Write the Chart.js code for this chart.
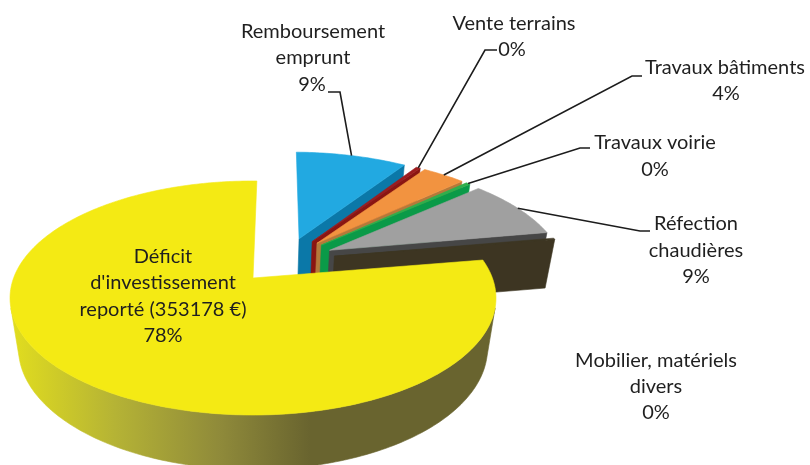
<!DOCTYPE html>
<html>
<head>
<meta charset="utf-8">
<style>html,body{margin:0;padding:0;background:#fff}canvas{display:block}</style>
<script src="https://cdn.jsdelivr.net/npm/chart.js@4"></script>
</head>
<body>
<canvas id="c" width="810" height="465"></canvas>
<script>
const categories = ["Déficit d'investissement reporté (353178 €)", "Remboursement emprunt", "Vente terrains", "Travaux bâtiments", "Travaux voirie", "Réfection chaudières", "Mobilier, matériels divers"];
const shares = [77.9, 9.1, 0.35, 3.5, 0.35, 8.6, 0.2];
const percentLabels = ["78%", "9%", "0%", "4%", "0%", "9%", "0%"];
const topColors = ["#f4ea14", "#22a9e1", "#9c1c1e", "#f29340", "#30ae4c", "#a0a0a0", "#3d3522"];
const wallColors = ["#6a6530", "#0b78a8", "#8a1512", "#b5793a", "#0a9a48", "#464646", "#3d3522"];

// label text lines, centre x and centre y of each line (layout only)
const labelLines = [
  [["Déficit",163,257],["d'investissement",163,283],["reporté (353178 €)",163,310],[percentLabels[0],163,336]],
  [["Remboursement",313,32],["emprunt",313,58],[percentLabels[1],312,85]],
  [["Vente terrains",514,24],[percentLabels[2],512,50]],
  [["Travaux bâtiments",725,68],[percentLabels[3],726,94]],
  [["Travaux voirie",655,143],[percentLabels[4],655,170]],
  [["Réfection",696,224],["chaudières",696,251],[percentLabels[5],696,277]],
  [["Mobilier, matériels",656,361],["divers",656,387],[percentLabels[6],656,413]]
];
// leader line: label end, elbow (layout only); the third point comes from the slice
const leaders = { 1:[[328,92],[340,92]], 2:[[497,50],[485,50]], 3:[[642,76],[632,76]], 4:[[590,148],[580,148]], 5:[[650,231],[640,231]] };

// camera of the tilted disc
const cam = {x0:253, y0:278, A:239.4, B:113.6, D:52, k:0.1709, m:0.035};
function project(U,V,h){
  const w = 1 + cam.k*V + cam.m*h;
  return [cam.x0 + cam.A*U/w, cam.y0 + (-cam.B*V + cam.D*h)/w];
}

const pie3d = {
  id:'pie3d',
  beforeDatasetsDraw(chart){
    const ctx = chart.ctx, arcs = chart.getDatasetMeta(0).data;
    const base = arcs[0], R = base.outerRadius;
    const mid0 = (base.startAngle+base.endAngle)/2, e0 = base.options.offset/R;
    const ou = e0*Math.cos(mid0), ov = -e0*Math.sin(mid0);
    const frame = el => {
      const mid=(el.startAngle+el.endAngle)/2, e=el.options.offset/R;
      return {cu:e*Math.cos(mid)-ou, cv:-e*Math.sin(mid)-ov};
    };
    const rim = (el,a,h) => {
      const f=frame(el);
      return project(f.cu+Math.cos(a), f.cv-Math.sin(a), h);
    };
    const apex = (el,h) => { const f=frame(el); return project(f.cu,f.cv,h); };
    const poly = (pts,fill) => {
      ctx.beginPath(); pts.forEach((p,i)=>i?ctx.lineTo(p[0],p[1]):ctx.moveTo(p[0],p[1])); ctx.closePath();
      ctx.fillStyle=fill; ctx.strokeStyle=fill; ctx.lineWidth=0.6; ctx.fill(); ctx.stroke();
    };
    const area = q => q.reduce((s,p,i)=>{const r=q[(i+1)%q.length];return s+p[0]*r[1]-r[0]*p[1];},0);
    const grad = ctx.createLinearGradient(10,0,310,0);
    grad.addColorStop(0,'#e2de1e'); grad.addColorStop(0.35,'#b5b335'); grad.addColorStop(0.7,'#8f8a3a'); grad.addColorStop(1,'#69642f');

    [1,2,3,4,5,6,0].forEach(i=>{
      const el=arcs[i], a0=el.startAngle, a1=el.endAngle;
      const n=Math.max(1,Math.ceil((a1-a0)/(Math.PI/180)));
      const wall = i===0 ? grad : wallColors[i];
      const angs=[]; for(let s=0;s<=n;s++) angs.push(a0+(a1-a0)*s/n);
      // outer wall: only the steps that face the viewer, as one polygon per run
      let run=[];
      const flush=()=>{ if(run.length>1) poly([...run.map(a=>rim(el,a,0)),...run.slice().reverse().map(a=>rim(el,a,1))],wall); run=[]; };
      for(let s=0;s<n;s++){
        const q=[rim(el,angs[s],0),rim(el,angs[s+1],0),rim(el,angs[s+1],1),rim(el,angs[s],1)];
        if(area(q)<0){ if(!run.length) run.push(angs[s]); run.push(angs[s+1]); }
        else flush();
      }
      flush();
      if(i!==0) poly([apex(el,0),rim(el,a1,0),rim(el,a1,1),apex(el,1)],wallColors[i]);
      poly([apex(el,0),...angs.map(a=>rim(el,a,0))],topColors[i]);
    });

    // leader lines
    ctx.strokeStyle='#1c1c1c'; ctx.lineWidth=1.6; ctx.lineJoin='miter';
    Object.keys(leaders).forEach(k=>{
      const el=arcs[k], mid=(el.startAngle+el.endAngle)/2, t=rim(el,mid,0);
      ctx.beginPath(); ctx.moveTo(...leaders[k][0]); ctx.lineTo(...leaders[k][1]); ctx.lineTo(t[0],t[1]); ctx.stroke();
    });

    // labels
    ctx.font='20px Lato'; ctx.fillStyle='#1f1f1f'; ctx.textAlign='center'; ctx.textBaseline='middle';
    labelLines.forEach(lines=>lines.forEach(l=>ctx.fillText(l[0],l[1],l[2])));
    return false;
  }
};

new Chart(document.getElementById('c'),{
  type:'pie',
  data:{labels:categories,datasets:[{data:shares,backgroundColor:topColors,offset:45,borderWidth:0}]},
  options:{
    responsive:false,animation:false,
    rotation:80.64,
    plugins:{legend:{display:false},tooltip:{enabled:false}},
    layout:{padding:0}
  },
  plugins:[pie3d]
});
</script>
</body>
</html>
